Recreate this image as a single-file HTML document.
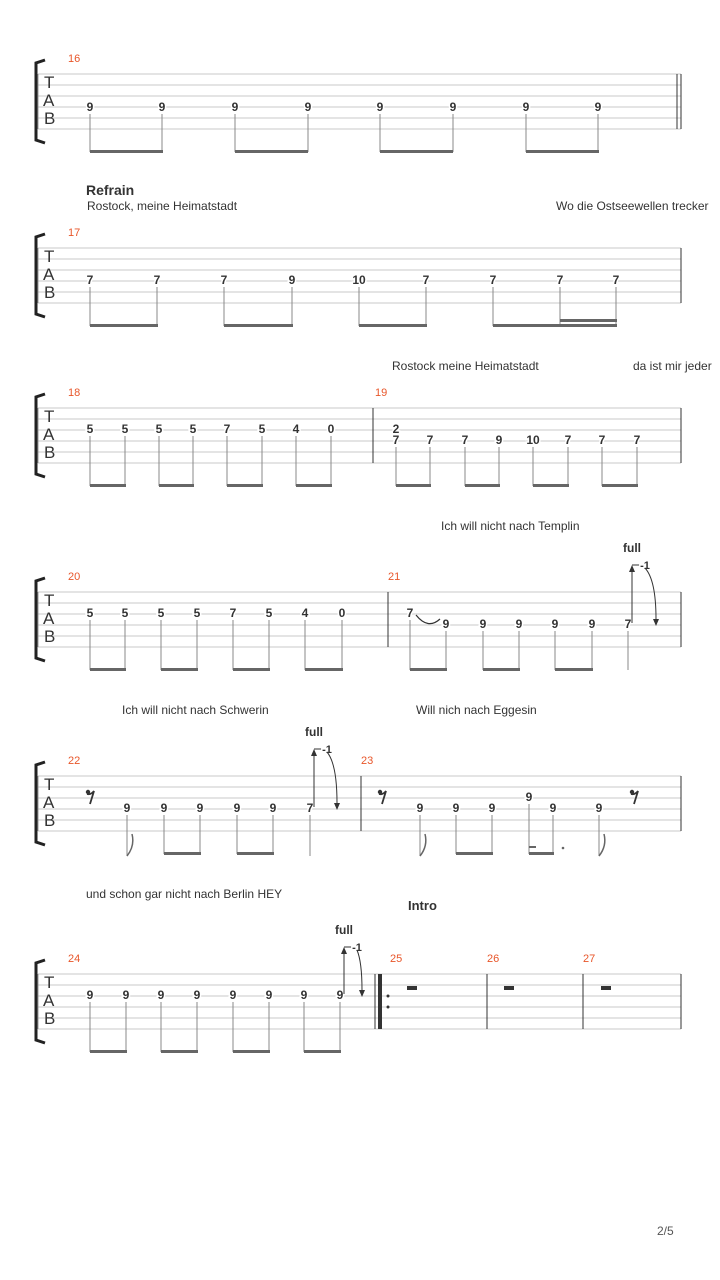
<!DOCTYPE html>
<html><head><meta charset="utf-8"><style>
body{margin:0;background:#fff}
svg{display:block;font-family:"Liberation Sans","DejaVu Sans",sans-serif}
.n{font-size:12px;font-weight:bold;fill:#333;text-anchor:middle;stroke:#fff;stroke-width:3px;paint-order:stroke}
.m{font-size:11px;fill:#e8562a}
.l{font-size:12px;fill:#333}
.b{font-weight:bold}
.tab{font-size:17px;fill:#333}
</style></head><body>
<svg width="720" height="1280" viewBox="0 0 720 1280">
<defs>
<g id="staff">
<g stroke="#c8c8c8" stroke-width="1">
<line x1="38" y1="0" x2="681" y2="0"/><line x1="38" y1="11" x2="681" y2="11"/><line x1="38" y1="22" x2="681" y2="22"/><line x1="38" y1="33" x2="681" y2="33"/><line x1="38" y1="44" x2="681" y2="44"/><line x1="38" y1="55" x2="681" y2="55"/>
</g>
<line x1="38" y1="0" x2="38" y2="55" stroke="#999"/>
<line x1="681" y1="0" x2="681" y2="55" stroke="#333"/>
<path d="M45,-14 L36,-11 L36,66 L45,69" fill="none" stroke="#222" stroke-width="3"/>
<text class="tab" x="44" y="14">T</text><text class="tab" x="43" y="32">A</text><text class="tab" x="44" y="50">B</text>
</g>
<g id="rest">
<circle cx="-3" cy="-4" r="2.2" fill="#333"/>
<path d="M-4,-2 Q0,-1 3,-5 L-1,8" fill="none" stroke="#333" stroke-width="1.8"/>
</g>
</defs>

<!-- System 1 -->
<g transform="translate(0,74)"><use href="#staff"/>
<text class="m" x="68" y="-12">16</text>
<line x1="677" y1="0" x2="677" y2="55" stroke="#333"/>
<g stroke="#888"><line x1="90" y1="40" x2="90" y2="78"/><line x1="162" y1="40" x2="162" y2="78"/><line x1="235" y1="40" x2="235" y2="78"/><line x1="308" y1="40" x2="308" y2="78"/><line x1="380" y1="40" x2="380" y2="78"/><line x1="453" y1="40" x2="453" y2="78"/><line x1="526" y1="40" x2="526" y2="78"/><line x1="598" y1="40" x2="598" y2="78"/></g>
<g class="n"><text x="90" y="37">9</text><text x="162" y="37">9</text><text x="235" y="37">9</text><text x="308" y="37">9</text><text x="380" y="37">9</text><text x="453" y="37">9</text><text x="526" y="37">9</text><text x="598" y="37">9</text></g>
<g fill="#666"><rect x="90" y="76" width="73" height="3"/><rect x="235" y="76" width="73" height="3"/><rect x="380" y="76" width="73" height="3"/><rect x="526" y="76" width="73" height="3"/></g>
</g>

<text class="l b" x="86" y="195" style="font-size:14px">Refrain</text>
<text class="l" x="87" y="210">Rostock, meine Heimatstadt</text>
<text class="l" x="556" y="210">Wo die Ostseewellen trecker</text>

<!-- System 2 -->
<g transform="translate(0,248)"><use href="#staff"/>
<text class="m" x="68" y="-12">17</text>
<g stroke="#888"><line x1="90" y1="39" x2="90" y2="78"/><line x1="157" y1="39" x2="157" y2="78"/><line x1="224" y1="39" x2="224" y2="78"/><line x1="292" y1="39" x2="292" y2="78"/><line x1="359" y1="39" x2="359" y2="78"/><line x1="426" y1="39" x2="426" y2="78"/><line x1="493" y1="39" x2="493" y2="78"/><line x1="560" y1="39" x2="560" y2="78"/><line x1="616" y1="39" x2="616" y2="78"/></g>
<g class="n"><text x="90" y="36">7</text><text x="157" y="36">7</text><text x="224" y="36">7</text><text x="292" y="36">9</text><text x="359" y="36">10</text><text x="426" y="36">7</text><text x="493" y="36">7</text><text x="560" y="36">7</text><text x="616" y="36">7</text></g>
<g fill="#666"><rect x="90" y="76" width="68" height="3"/><rect x="224" y="76" width="69" height="3"/><rect x="359" y="76" width="68" height="3"/><rect x="493" y="76" width="124" height="3"/><rect x="560" y="71" width="57" height="3"/></g>
</g>

<text class="l" x="392" y="370">Rostock meine Heimatstadt</text>
<text class="l" x="633" y="370">da ist mir jeder</text>

<!-- System 3 -->
<g transform="translate(0,408)"><use href="#staff"/>
<text class="m" x="68" y="-12">18</text><text class="m" x="375" y="-12">19</text>
<line x1="373" y1="0" x2="373" y2="55" stroke="#333"/>
<g stroke="#888"><line x1="90" y1="28" x2="90" y2="78"/><line x1="125" y1="28" x2="125" y2="78"/><line x1="159" y1="28" x2="159" y2="78"/><line x1="193" y1="28" x2="193" y2="78"/><line x1="227" y1="28" x2="227" y2="78"/><line x1="262" y1="28" x2="262" y2="78"/><line x1="296" y1="28" x2="296" y2="78"/><line x1="331" y1="28" x2="331" y2="78"/>
<line x1="396" y1="39" x2="396" y2="78"/><line x1="430" y1="39" x2="430" y2="78"/><line x1="465" y1="39" x2="465" y2="78"/><line x1="499" y1="39" x2="499" y2="78"/><line x1="533" y1="39" x2="533" y2="78"/><line x1="568" y1="39" x2="568" y2="78"/><line x1="602" y1="39" x2="602" y2="78"/><line x1="637" y1="39" x2="637" y2="78"/></g>
<g class="n"><text x="90" y="25">5</text><text x="125" y="25">5</text><text x="159" y="25">5</text><text x="193" y="25">5</text><text x="227" y="25">7</text><text x="262" y="25">5</text><text x="296" y="25">4</text><text x="331" y="25">0</text>
<text x="396" y="25">2</text><text x="396" y="36">7</text><text x="430" y="36">7</text><text x="465" y="36">7</text><text x="499" y="36">9</text><text x="533" y="36">10</text><text x="568" y="36">7</text><text x="602" y="36">7</text><text x="637" y="36">7</text></g>
<g fill="#666"><rect x="90" y="76" width="36" height="3"/><rect x="159" y="76" width="35" height="3"/><rect x="227" y="76" width="36" height="3"/><rect x="296" y="76" width="36" height="3"/><rect x="396" y="76" width="35" height="3"/><rect x="465" y="76" width="35" height="3"/><rect x="533" y="76" width="36" height="3"/><rect x="602" y="76" width="36" height="3"/></g>
</g>

<text class="l" x="441" y="530">Ich will nicht nach Templin</text>

<!-- System 4 -->
<g transform="translate(0,592)"><use href="#staff"/>
<text class="m" x="68" y="-12">20</text><text class="m" x="388" y="-12">21</text>
<line x1="388" y1="0" x2="388" y2="55" stroke="#333"/>
<g stroke="#888"><line x1="90" y1="28" x2="90" y2="78"/><line x1="125" y1="28" x2="125" y2="78"/><line x1="161" y1="28" x2="161" y2="78"/><line x1="197" y1="28" x2="197" y2="78"/><line x1="233" y1="28" x2="233" y2="78"/><line x1="269" y1="28" x2="269" y2="78"/><line x1="305" y1="28" x2="305" y2="78"/><line x1="342" y1="28" x2="342" y2="78"/>
<line x1="410" y1="28" x2="410" y2="78"/><line x1="446" y1="39" x2="446" y2="78"/><line x1="483" y1="39" x2="483" y2="78"/><line x1="519" y1="39" x2="519" y2="78"/><line x1="555" y1="39" x2="555" y2="78"/><line x1="592" y1="39" x2="592" y2="78"/><line x1="628" y1="39" x2="628" y2="78"/></g>
<path d="M416,23 Q428,38 440,27" fill="none" stroke="#333" stroke-width="1.2"/>
<g class="n"><text x="90" y="25">5</text><text x="125" y="25">5</text><text x="161" y="25">5</text><text x="197" y="25">5</text><text x="233" y="25">7</text><text x="269" y="25">5</text><text x="305" y="25">4</text><text x="342" y="25">0</text>
<text x="410" y="25">7</text><text x="446" y="36">9</text><text x="483" y="36">9</text><text x="519" y="36">9</text><text x="555" y="36">9</text><text x="592" y="36">9</text><text x="628" y="36">7</text></g>
<g fill="#666"><rect x="90" y="76" width="36" height="3"/><rect x="161" y="76" width="37" height="3"/><rect x="233" y="76" width="37" height="3"/><rect x="305" y="76" width="38" height="3"/><rect x="410" y="76" width="37" height="3"/><rect x="483" y="76" width="37" height="3"/><rect x="555" y="76" width="38" height="3"/></g>
<line x1="632" y1="31" x2="632" y2="-22" stroke="#333"/><path d="M629,-20 L632,-27 L635,-20Z" fill="#333"/>
<line x1="632" y1="-27" x2="642" y2="-27" stroke="#333"/>
<text class="n" x="632" y="-40">full</text><text class="n" x="645" y="-23" style="font-size:11px">-1</text>
<path d="M645,-24 Q656,-12 656,27" fill="none" stroke="#333"/><path d="M653,27 L656,34 L659,27Z" fill="#333"/>
</g>

<text class="l" x="122" y="714">Ich will nicht nach Schwerin</text>
<text class="l" x="416" y="714">Will nich nach Eggesin</text>

<!-- System 5 -->
<g transform="translate(0,776)"><use href="#staff"/>
<text class="m" x="68" y="-12">22</text><text class="m" x="361" y="-12">23</text>
<line x1="361" y1="0" x2="361" y2="55" stroke="#333"/>
<use href="#rest" x="91" y="20"/><use href="#rest" x="383" y="20"/><use href="#rest" x="635" y="20"/>
<g stroke="#888"><line x1="127" y1="39" x2="127" y2="80"/><line x1="164" y1="39" x2="164" y2="78"/><line x1="200" y1="39" x2="200" y2="78"/><line x1="237" y1="39" x2="237" y2="78"/><line x1="273" y1="39" x2="273" y2="78"/><line x1="310" y1="39" x2="310" y2="80"/>
<line x1="420" y1="39" x2="420" y2="80"/><line x1="456" y1="39" x2="456" y2="78"/><line x1="492" y1="39" x2="492" y2="78"/><line x1="529" y1="28" x2="529" y2="78"/><line x1="553" y1="39" x2="553" y2="78"/><line x1="599" y1="39" x2="599" y2="80"/></g>
<g class="n"><text x="127" y="36">9</text><text x="164" y="36">9</text><text x="200" y="36">9</text><text x="237" y="36">9</text><text x="273" y="36">9</text><text x="310" y="36">7</text>
<text x="420" y="36">9</text><text x="456" y="36">9</text><text x="492" y="36">9</text><text x="529" y="25">9</text><text x="553" y="36">9</text><text x="599" y="36">9</text></g>
<g fill="none" stroke="#666" stroke-width="1.5"><path d="M127,80 Q135,70 132,58"/><path d="M420,80 Q428,70 425,58"/><path d="M599,80 Q607,70 604,58"/></g>
<g fill="#666"><rect x="164" y="76" width="37" height="3"/><rect x="237" y="76" width="37" height="3"/><rect x="456" y="76" width="37" height="3"/><rect x="529" y="76" width="25" height="3"/><rect x="529" y="70" width="7" height="2"/><circle cx="563" cy="72" r="1.3"/></g>
<line x1="314" y1="31" x2="314" y2="-22" stroke="#333"/><path d="M311,-20 L314,-27 L317,-20Z" fill="#333"/>
<line x1="314" y1="-27" x2="324" y2="-27" stroke="#333"/>
<text class="n" x="314" y="-40">full</text><text class="n" x="327" y="-23" style="font-size:11px">-1</text>
<path d="M327,-24 Q337,-12 337,27" fill="none" stroke="#333"/><path d="M334,27 L337,34 L340,27Z" fill="#333"/>
</g>

<text class="l" x="86" y="898">und schon gar nicht nach Berlin HEY</text>
<text class="l b" x="408" y="910" style="font-size:13px">Intro</text>

<!-- System 6 -->
<g transform="translate(0,974)"><use href="#staff"/>
<text class="m" x="68" y="-12">24</text><text class="m" x="390" y="-12">25</text><text class="m" x="487" y="-12">26</text><text class="m" x="583" y="-12">27</text>
<rect x="378" y="0" width="4" height="55" fill="#333"/><line x1="375" y1="0" x2="375" y2="55" stroke="#333"/>
<circle cx="388" cy="22" r="1.5" fill="#333"/><circle cx="388" cy="33" r="1.5" fill="#333"/>
<line x1="487" y1="0" x2="487" y2="55" stroke="#333"/><line x1="583" y1="0" x2="583" y2="55" stroke="#333"/>
<g fill="#333"><rect x="407" y="12" width="10" height="4"/><rect x="504" y="12" width="10" height="4"/><rect x="601" y="12" width="10" height="4"/></g>
<g stroke="#888"><line x1="90" y1="28" x2="90" y2="78"/><line x1="126" y1="28" x2="126" y2="78"/><line x1="161" y1="28" x2="161" y2="78"/><line x1="197" y1="28" x2="197" y2="78"/><line x1="233" y1="28" x2="233" y2="78"/><line x1="269" y1="28" x2="269" y2="78"/><line x1="304" y1="28" x2="304" y2="78"/><line x1="340" y1="28" x2="340" y2="78"/></g>
<g class="n"><text x="90" y="25">9</text><text x="126" y="25">9</text><text x="161" y="25">9</text><text x="197" y="25">9</text><text x="233" y="25">9</text><text x="269" y="25">9</text><text x="304" y="25">9</text><text x="340" y="25">9</text></g>
<g fill="#666"><rect x="90" y="76" width="37" height="3"/><rect x="161" y="76" width="37" height="3"/><rect x="233" y="76" width="37" height="3"/><rect x="304" y="76" width="37" height="3"/></g>
<line x1="344" y1="20" x2="344" y2="-22" stroke="#333"/><path d="M341,-20 L344,-27 L347,-20Z" fill="#333"/>
<line x1="344" y1="-27" x2="354" y2="-27" stroke="#333"/>
<text class="n" x="344" y="-40">full</text><text class="n" x="357" y="-23" style="font-size:11px">-1</text>
<path d="M357,-24 Q362,-12 362,16" fill="none" stroke="#333"/><path d="M359,16 L362,23 L365,16Z" fill="#333"/>
</g>

<text class="l" x="657" y="1235" style="fill:#555">2/5</text>
</svg>
</body></html>
